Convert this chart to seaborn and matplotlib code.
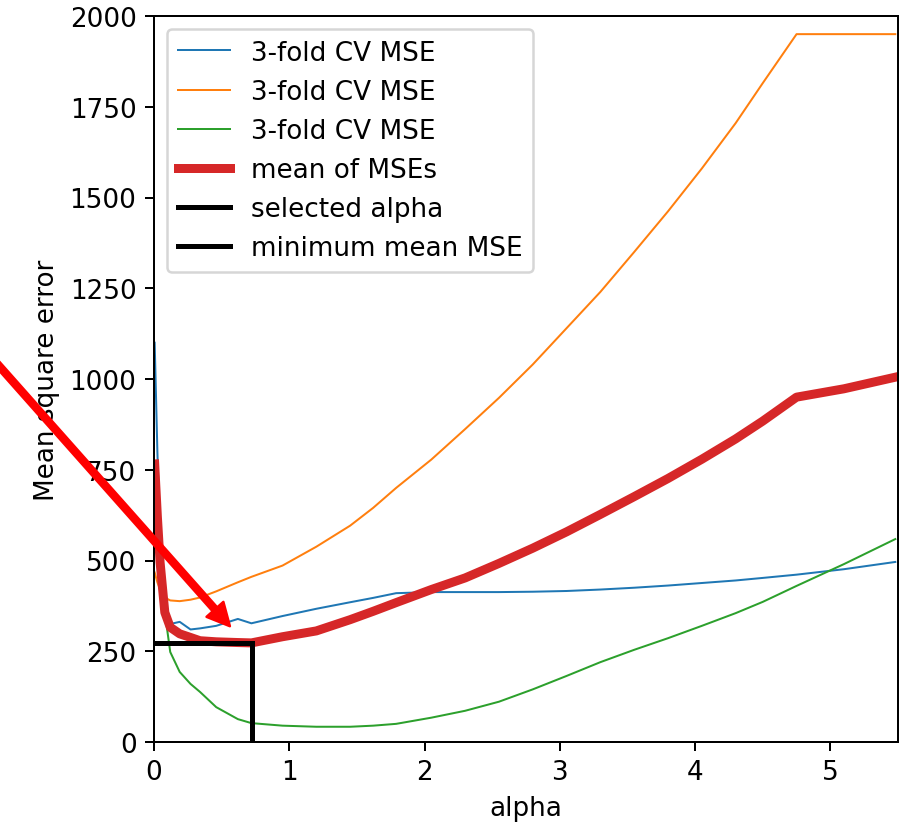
import matplotlib
matplotlib.use("Agg")
import matplotlib.pyplot as plt
import seaborn as sns
import numpy as np

alphas = [0.005, 0.025, 0.045, 0.08, 0.12, 0.19, 0.27, 0.34, 0.46, 0.62, 0.72,
          0.95, 1.2, 1.45, 1.62, 1.79, 2.05, 2.3, 2.55, 2.8, 3.05, 3.3, 3.55, 3.8,
          4.05, 4.3, 4.5, 4.75, 5.1, 5.48]
mse_fold1 = [1100, 800, 560, 360, 325, 331, 310, 313, 320, 339, 327,
             347, 367, 385, 397, 410, 413, 413, 413, 414, 416, 420, 425, 431,
             438, 445, 452, 461, 476, 496]
mse_fold2 = [467, 440, 420, 398, 390, 388, 392, 398, 415, 440, 455,
             486, 538, 596, 645, 700, 778, 862, 948, 1040, 1140, 1240, 1350, 1462,
             1580, 1705, 1815, 1950, 1950, 1950]
mse_fold3 = [730, 620, 505, 357, 248, 193, 160, 138, 96, 63, 52,
             45, 42, 42, 45, 50, 67, 86, 111, 145, 182, 220, 254, 286,
             320, 355, 386, 430, 490, 559]
mse_mean = [766, 620, 495, 357, 316, 298, 288, 279, 276, 274, 273,
            290, 306, 337, 360, 384, 420, 452, 492, 534, 579, 627, 676, 726,
            779, 835, 884, 950, 973, 1005]
selected_alpha = 0.724
min_mean_mse = 273
arrow_tip = (0.561, 319)
arrow_tail = (-1.40, 1143)

W, H, DPI = 912, 827, 180
FS = 10.5
fig = plt.figure(figsize=(W / DPI, H / DPI), dpi=DPI)
ax = fig.add_axes([154 / W, 1 - 743 / H, (898 - 154) / W, (743 - 17) / H])

fold_colors = ["tab:blue", "tab:orange", "tab:green"]
for vals, c in zip([mse_fold1, mse_fold2, mse_fold3], fold_colors):
    sns.lineplot(x=alphas, y=vals, color=c, lw=0.8, ax=ax,
                 label="3-fold CV MSE", estimator=None, sort=False)
sns.lineplot(x=alphas, y=mse_mean, color="tab:red", lw=3.6, ax=ax,
             label="mean of MSEs", estimator=None, sort=False)
sns.lineplot(x=[selected_alpha, selected_alpha], y=[0, min_mean_mse], color="black",
             lw=2, ax=ax, label="selected alpha", estimator=None, sort=False)
sns.lineplot(x=[0, selected_alpha], y=[min_mean_mse, min_mean_mse], color="black",
             lw=2, ax=ax, label="minimum mean MSE", estimator=None, sort=False)

ax.annotate("", xy=arrow_tip, xytext=arrow_tail, xycoords="data", textcoords="data",
            annotation_clip=False,
            arrowprops=dict(facecolor="red", edgecolor="red", width=2.4,
                            headwidth=9, headlength=9, shrink=0.0),
            zorder=10)

ax.set_xlim(0, 5.5)
ax.set_ylim(0, 2000)
ax.set_xticks([0, 1, 2, 3, 4, 5])
ax.set_yticks(np.arange(0, 2001, 250))
ax.set_xlabel("alpha", fontsize=FS)
ax.set_ylabel("Mean square error", fontsize=FS)
ax.tick_params(labelsize=FS)
for s in ax.spines.values():
    s.set_visible(True)
    s.set_color("black")
    s.set_linewidth(0.8)
ax.legend(loc="upper left", fontsize=FS)

fig.savefig("out.png", dpi=DPI)
